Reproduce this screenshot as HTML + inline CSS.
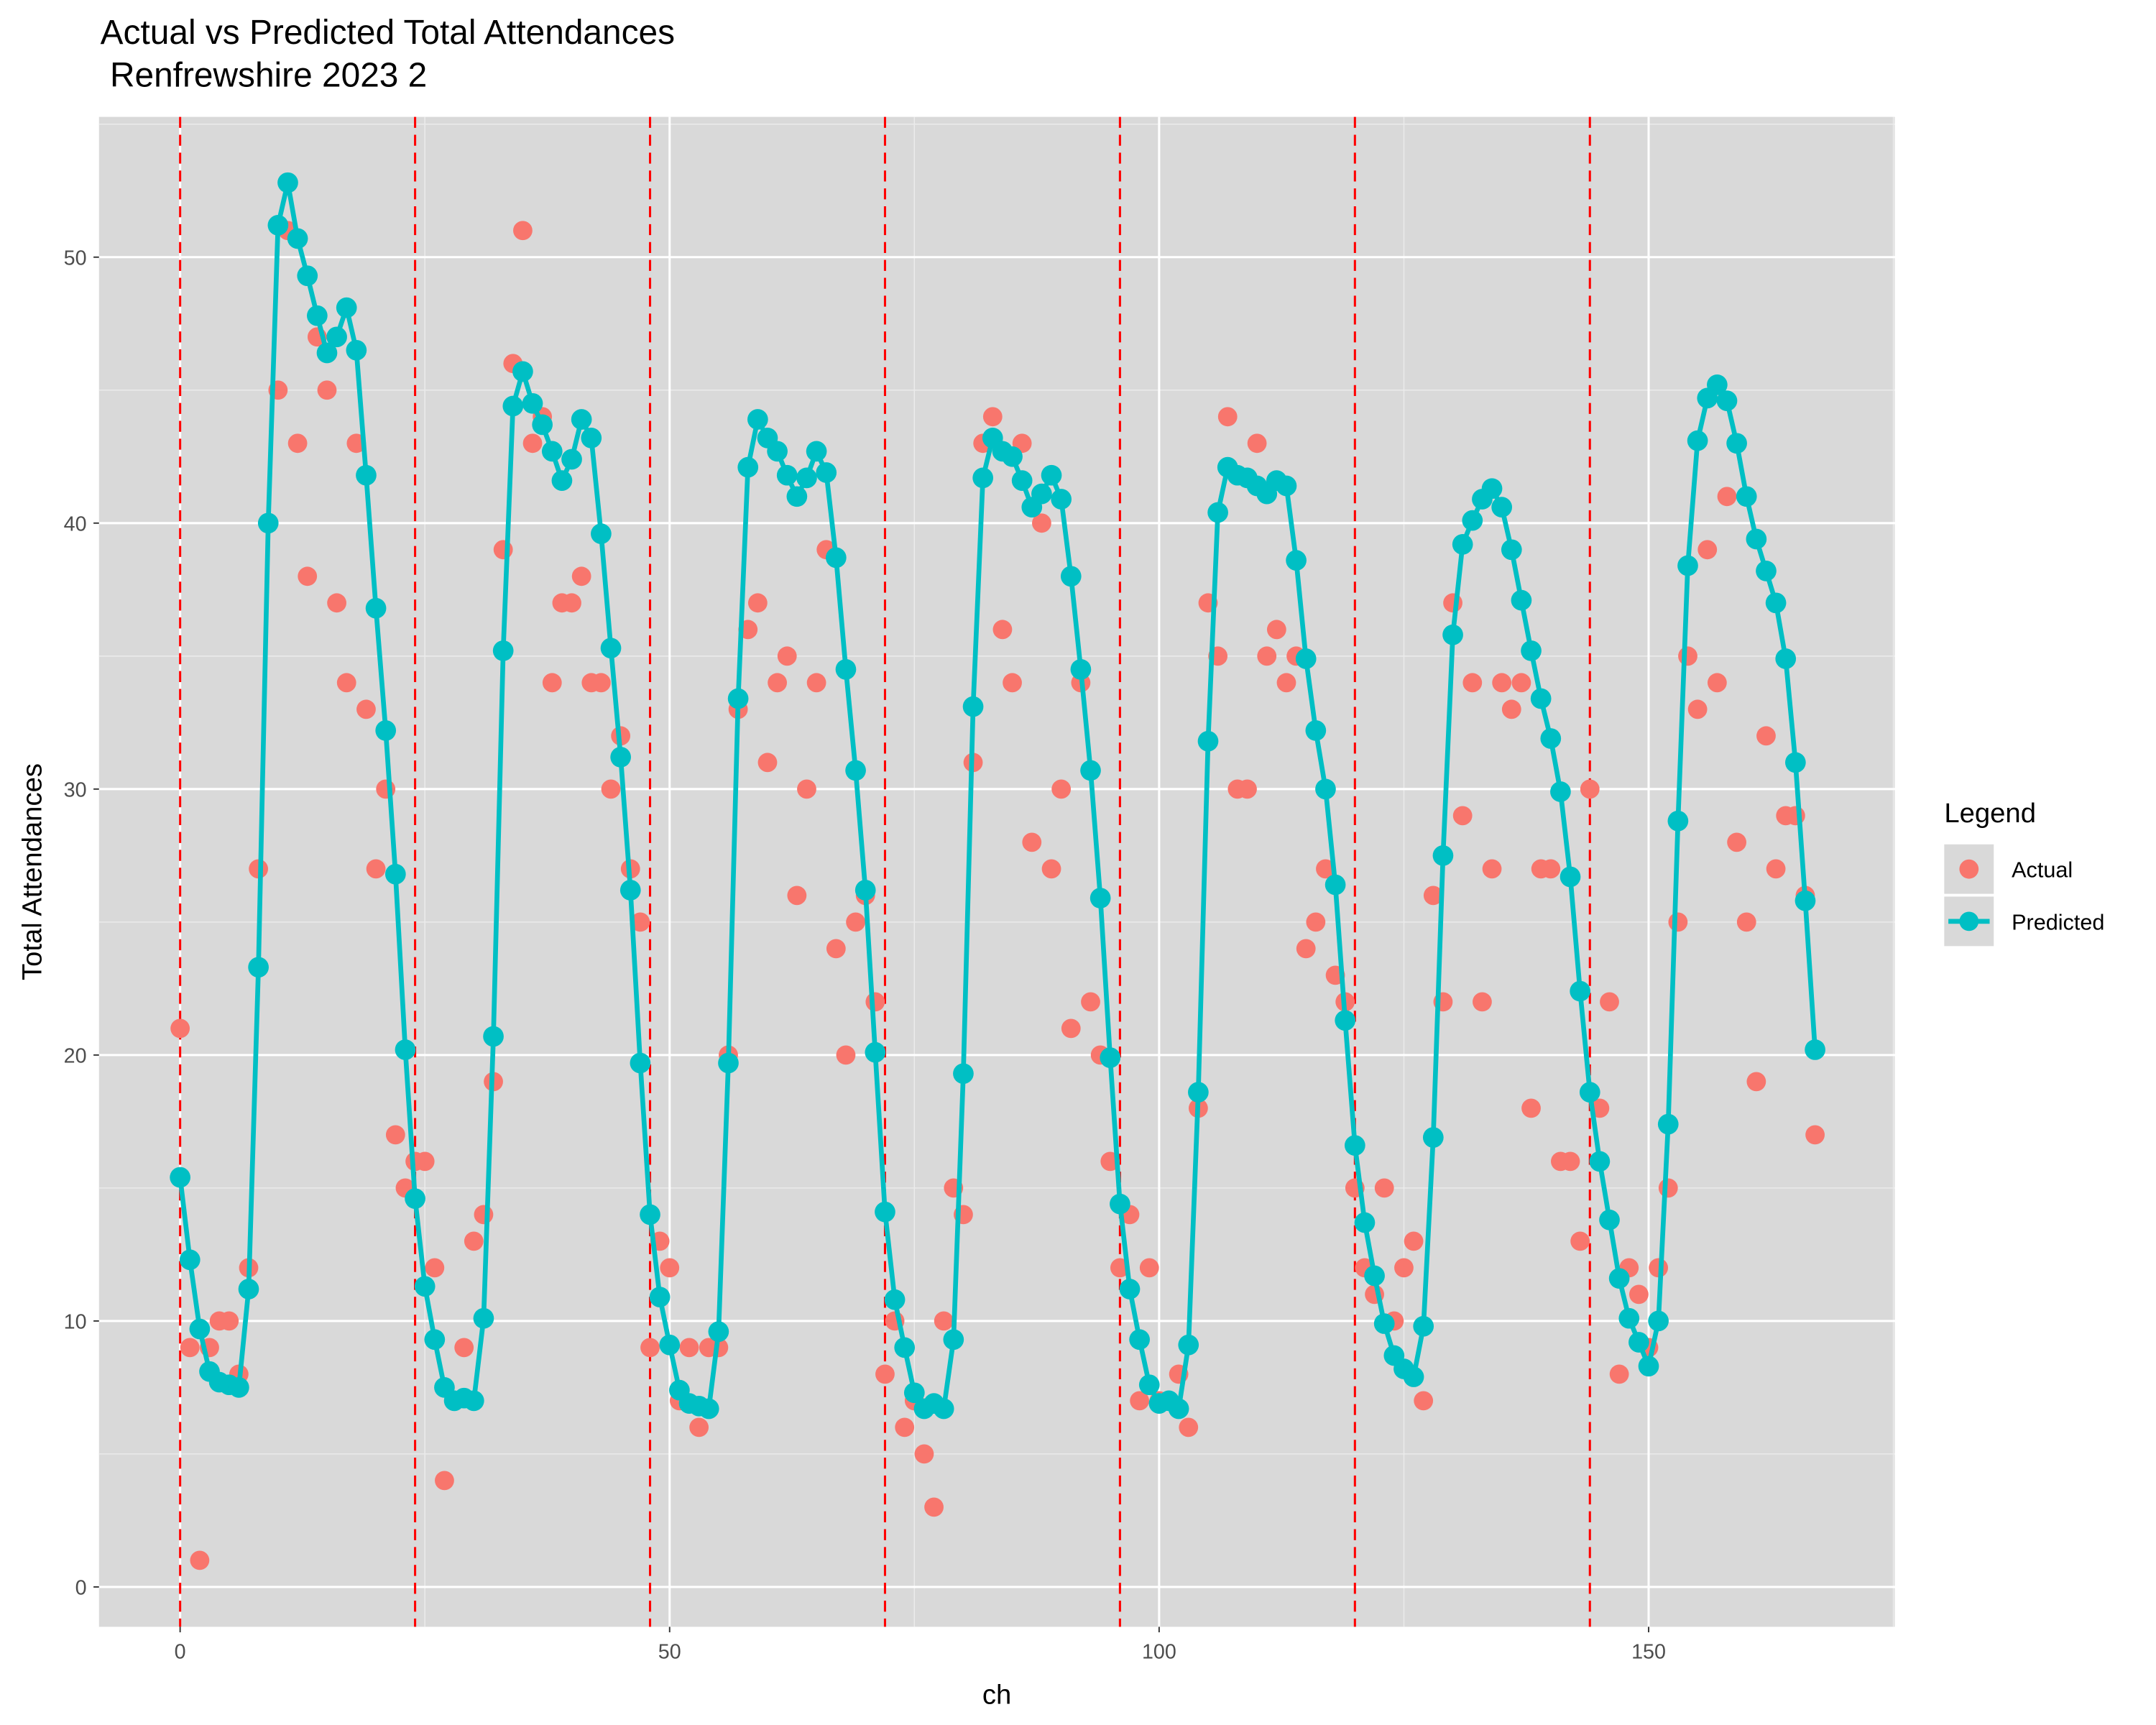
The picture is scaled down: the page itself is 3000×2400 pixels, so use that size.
<!DOCTYPE html>
<html><head><meta charset="utf-8"><style>
html,body{margin:0;padding:0;background:#fff}
svg{display:block;font-family:"Liberation Sans",Arial,sans-serif}
</style></head><body>
<svg id="chart" width="3000" height="2400" viewBox="0 0 1568 1254.4" xmlns="http://www.w3.org/2000/svg">
<rect width="1568" height="1254.4" fill="#fff"/>
<text x="73" y="32" font-size="25" fill="#000">Actual vs Predicted Total Attendances</text>
<text x="73" y="63" font-size="25" fill="#000">&#160;Renfrewshire 2023 2</text>
<rect x="72" y="85" width="1306" height="1098" fill="#d9d9d9"/>
<g id="grid"></g><g id="vlines"></g><g id="series"></g><g id="axes"></g>
<text x="725" y="1239" font-size="20" text-anchor="middle">ch</text>
<text transform="translate(30,634) rotate(-90)" font-size="20" text-anchor="middle">Total Attendances</text>
<g>
<text x="1414" y="598" font-size="20">Legend</text>
<rect x="1414" y="614" width="36" height="36" fill="#d9d9d9"/>
<circle cx="1432" cy="632" r="7" fill="#f8766d"/>
<text x="1463" y="638" font-size="16">Actual</text>
<rect x="1414" y="652" width="36" height="36" fill="#d9d9d9"/>
<line x1="1417" y1="670" x2="1447" y2="670" stroke="#00bfc4" stroke-width="3.5"/>
<circle cx="1432" cy="670" r="7" fill="#00bfc4"/>
<text x="1463" y="676" font-size="16">Predicted</text>
</g>
</svg>
<script>
const actual=[21,9,1,9,10,10,8,12,27,40,45,51,43,38,47,45,37,34,43,33,27,30,17,15,16,16,12,4,7,9,13,14,19,39,46,51,43,44,34,37,37,38,34,34,30,32,27,25,9,13,12,7,9,6,9,9,20,33,36,37,31,34,35,26,30,34,39,24,20,25,26,22,8,10,6,7,5,3,10,15,14,31,43,44,36,34,43,28,40,27,30,21,34,22,20,16,12,14,7,12,7,7,8,6,18,37,35,44,30,30,43,35,36,34,35,24,25,27,23,22,15,12,11,15,10,12,13,7,26,22,37,29,34,22,27,34,33,34,18,27,27,16,16,13,30,18,22,8,12,11,9,12,15,25,35,33,39,34,41,28,25,19,32,27,29,29,26,17];
const predicted=[15.4,12.3,9.7,8.1,7.7,7.6,7.5,11.2,23.3,40,51.2,52.8,50.7,49.3,47.8,46.4,47,48.1,46.5,41.8,36.8,32.2,26.8,20.2,14.6,11.3,9.3,7.5,7,7.1,7,10.1,20.7,35.2,44.4,45.7,44.5,43.7,42.7,41.6,42.4,43.9,43.2,39.6,35.3,31.2,26.2,19.7,14,10.9,9.1,7.4,6.9,6.8,6.7,9.6,19.7,33.4,42.1,43.9,43.2,42.7,41.8,41,41.7,42.7,41.9,38.7,34.5,30.7,26.2,20.1,14.1,10.8,9,7.3,6.7,6.9,6.7,9.3,19.3,33.1,41.7,43.2,42.7,42.5,41.6,40.6,41.1,41.8,40.9,38,34.5,30.7,25.9,19.9,14.4,11.2,9.3,7.6,6.9,7,6.7,9.1,18.6,31.8,40.4,42.1,41.8,41.7,41.4,41.1,41.6,41.4,38.6,34.9,32.2,30,26.4,21.3,16.6,13.7,11.7,9.9,8.7,8.2,7.9,9.8,16.9,27.5,35.8,39.2,40.1,40.9,41.3,40.6,39,37.1,35.2,33.4,31.9,29.9,26.7,22.4,18.6,16,13.8,11.6,10.1,9.2,8.3,10,17.4,28.8,38.4,43.1,44.7,45.2,44.6,43,41,39.4,38.2,37,34.9,31,25.8,20.2];
const xTicks=[0,50,100,150];
const xMinor=[25,75,125,175];
const yTicks=[0,10,20,30,40,50];
const yMinor=[5,15,25,35,45,55];
const weekBreaks=[0,24,48,72,96,120,144];
const NS="http://www.w3.org/2000/svg";
const X0=72,X1=1378,Y0=85,Y1=1183;
function sx(v){return 131+v*(1199-131)/150;}
function sy(v){return 1154-v*(1154-187)/50;}
function mk(tag,attrs,parent){const e=document.createElementNS(NS,tag);for(const k in attrs)e.setAttribute(k,attrs[k]);parent.appendChild(e);return e;}
const grid=document.getElementById('grid'),vl=document.getElementById('vlines'),ser=document.getElementById('series'),ax=document.getElementById('axes');
yMinor.forEach(v=>{if(sy(v)<Y0)return;const l=mk('line',{x1:X0,x2:X1,y1:sy(v),y2:sy(v),stroke:'#ebebeb','stroke-width':0.8},grid);

});
xMinor.forEach(v=>{if(sx(v)>X1)return;const l=mk('line',{x1:sx(v),x2:sx(v),y1:Y0,y2:Y1,stroke:'#ebebeb','stroke-width':0.8},grid);

});
yTicks.forEach(v=>{const l=mk('line',{x1:X0,x2:X1,y1:sy(v),y2:sy(v),stroke:'#fff','stroke-width':1.6},grid);


const t=mk('text',{x:63,y:sy(v)+5.5,'font-size':15,'text-anchor':'end',fill:'#4d4d4d'},ax);t.textContent=v;


mk('line',{x1:68,x2:72,y1:sy(v),y2:sy(v),stroke:'#333','stroke-width':1},ax);});
xTicks.forEach(v=>{const l=mk('line',{x1:sx(v),x2:sx(v),y1:Y0,y2:Y1,stroke:'#fff','stroke-width':1.6},grid);


const t=mk('text',{x:sx(v),y:1206,'font-size':15,'text-anchor':'middle',fill:'#4d4d4d'},ax);t.textContent=v;


mk('line',{x1:sx(v),x2:sx(v),y1:1183,y2:1187,stroke:'#333','stroke-width':1},ax);});
weekBreaks.forEach(v=>{const l=mk('line',{x1:sx(v),x2:sx(v),y1:Y0,y2:Y1,stroke:'#ff0000','stroke-width':1.6,'stroke-dasharray':'8,5'},vl);

});
actual.forEach((v,i)=>{const c=mk('circle',{cx:sx(i),cy:sy(v),r:7,fill:'#f8766d'},ser);

});
const p=mk('polyline',{points:predicted.map((v,i)=>sx(i)+','+sy(v)).join(' '),fill:'none',stroke:'#00bfc4','stroke-width':3.5,'stroke-linejoin':'round'},ser);


predicted.forEach((v,i)=>{const c=mk('circle',{cx:sx(i),cy:sy(v),r:7.5,fill:'#00bfc4'},ser);

});
</script>
</body></html>
